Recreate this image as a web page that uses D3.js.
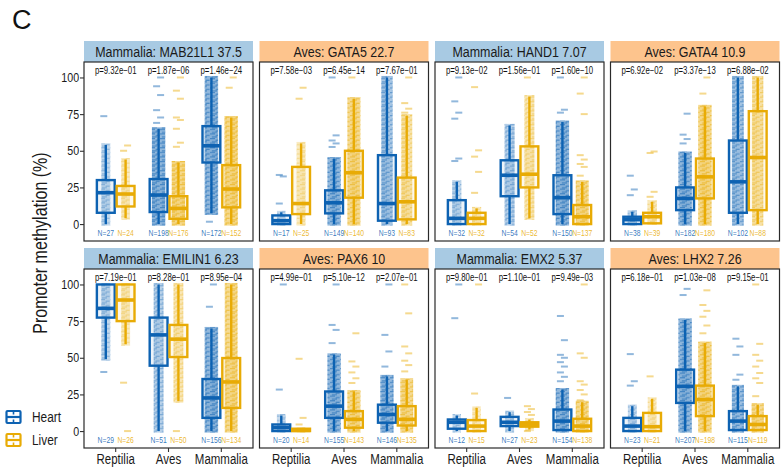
<!DOCTYPE html>
<html>
<head>
<meta charset="utf-8">
<script src="https://cdn.jsdelivr.net/npm/d3@7"></script>
<style>
  body { margin: 0; background: #fff; }
  svg { display: block; }
</style>
</head>
<body>
<svg id="chart" width="783" height="467"></svg>
<script>
// ---- data ----------------------------------------------------------------
const classes = ["Reptilia", "Aves", "Mammalia"];
const tissues = ["Heart", "Liver"];
const tissueColors = ["#0D62B2", "#E8AB05"];
const yTicks = [0, 25, 50, 75, 100];

const panelTitles = [
  "Mammalia: MAB21L1 37.5", "Aves: GATA5 22.7", "Mammalia: HAND1 7.07", "Aves: GATA4 10.9",
  "Mammalia: EMILIN1 6.23", "Aves: PAX6 10", "Mammalia: EMX2 5.37", "Aves: LHX2 7.26"
];
const panelClade = ["Mammalia", "Aves", "Mammalia", "Aves", "Mammalia", "Aves", "Mammalia", "Aves"];
const cladeFill = { Mammalia: "#A8CAE3", Aves: "#FDC48D" };

// Heart vs Liver test, one p per class (Reptilia, Aves, Mammalia)
const pValues = [
  [9.32e-1, 1.87e-6, 1.46e-24],
  [7.58e-3, 6.45e-14, 7.67e-1],
  [9.13e-2, 1.56e-1, 1.60e-10],
  [6.92e-2, 3.37e-13, 6.88e-2],
  [7.19e-1, 8.28e-1, 8.95e-4],
  [4.99e-1, 5.10e-12, 2.07e-1],
  [9.80e-1, 1.10e-1, 9.49e-3],
  [6.18e-1, 1.03e-8, 9.15e-1]
];

// species counts: Reptilia H/L, Aves H/L, Mammalia H/L
const groupCounts = [
  [27, 24, 198, 176, 172, 152],
  [17, 25, 149, 140, 93, 83],
  [32, 32, 54, 52, 150, 137],
  [38, 39, 182, 180, 102, 88],
  [29, 26, 51, 50, 156, 134],
  [20, 14, 155, 143, 146, 135],
  [12, 15, 27, 23, 154, 138],
  [23, 21, 207, 198, 115, 119]
];

// box statistics [lower whisker, Q1, median, Q3, upper whisker], same order as groupCounts
const boxStats = [
  [[0, 7.7, 21.4, 30, 54], [4, 12, 20.5, 26, 44], [0, 8.2, 19.8, 30.7, 65],
   [0, 3.6, 10.7, 19, 42], [7.3, 42, 53.4, 66.8, 100], [0, 11.4, 23.9, 40.2, 72.7]],
  [[0, 0, 2.3, 5.9, 8], [0, 6.8, 14, 39, 55], [0, 7.3, 14.5, 23, 44.7],
   [0, 18, 35, 50, 85.5], [0, 2.3, 14, 47, 100], [0, 3.2, 15.2, 31.7, 74]],
  [[0, 0, 3.9, 16.3, 28.8], [0, 0, 3.9, 7.7, 10.7], [0, 19, 33.3, 43.5, 67.3],
   [3.9, 25, 34, 53, 87], [0, 6.8, 18, 33.3, 69.6], [0, 0, 5, 13, 28.8]],
  [[0, 0, 3, 5, 8.4], [0.5, 0.5, 5, 7.7, 15.2], [0, 9.5, 17.5, 25, 48.5],
   [0, 17.5, 32.2, 44.7, 80.3], [0, 7.7, 28.8, 57, 100], [0, 9.5, 45.4, 77, 100]],
  [[49, 77.4, 83.7, 100, 100], [59.3, 75, 89.4, 100, 100], [0, 44.6, 65.6, 77.4, 100],
   [20.4, 50.5, 62.7, 72.4, 100], [0, 9, 22.6, 35.5, 70], [0, 15.8, 33.5, 49.8, 100]],
  [[0, 0, 2.3, 4.5, 10.6], [0, 0, 0.5, 1.6, 1.6], [0, 9, 17, 27, 52],
   [0, 2.3, 8, 13.6, 27], [0, 5.7, 11.3, 18, 37.3], [0, 3.8, 8, 17, 35]],
  [[0, 1.6, 6, 7.9, 10.6], [0, 0, 3.4, 7.5, 15.8], [0, 3.4, 6, 9.7, 12.9],
   [1, 3, 4.5, 6, 7.9], [0, 0.7, 6.8, 14.7, 28.3], [0, 0, 3.4, 8.4, 19.7]],
  [[0, 0, 3.4, 9, 17], [0, 0, 3, 12.4, 22], [0, 19.2, 30.5, 41.9, 75.8],
   [0, 10.2, 21.5, 31, 60], [0, 0.7, 6.8, 13.6, 30.5], [0, 0.7, 4.5, 10.2, 18]]
];

// species lying outside the whiskers
const outlierValues = [
  [[73.6], [50, 53.6], [69, 72.7, 77.7, 88, 94, 100],
   [52.7, 55.5, 65, 71, 72.7, 85.5, 91, 100], [1.6], [93, 100]],
  [[14, 32.5, 33.5], [85.5, 93], [52.6, 55, 57, 60.5, 100],
   [100], [], [76, 78.7, 82.5, 100]],
  [[43, 44.7, 71.9, 76, 83.7, 100], [21.3, 35.6, 46, 50.3, 93.4], [],
   [100], [76, 78, 100], [33, 39, 41, 44, 47, 75, 89, 100]],
  [[19.7, 23.6, 33], [18.6, 22, 48.5, 49.5], [55, 58, 61, 75.3],
   [89, 100], [], []],
  [[40.3], [33, 0], [], [0], [84.8, 100], []],
  [[28.3, 100], [4.5, 9, 49.3], [60, 69, 72.4, 100],
   [32.8, 36, 40, 44, 47.5, 66.7], [44, 54.3, 65.6, 100], [40.7, 45, 48, 53, 57.7, 80.3, 100]],
  [[77, 100], [25.6, 100], [22.6], [0, 11, 13, 15, 17],
   [34, 37, 40, 44, 47, 50, 52, 62, 78.5], [21, 25, 28, 31.7, 34, 50, 53, 100]],
  [[31, 34, 52.5], [37.3], [92.8, 97], [66.7, 72, 78, 82, 86, 96],
   [35, 38.5, 52, 57.7, 63], [23.8, 32.8, 36, 39.6, 44, 48, 52, 59.5, 100]]
];

// ---- layout ----------------------------------------------------------------
const svg = d3.select("#chart");
const panelLeft = [84, 259.5, 435, 610.5];
const panelW = 169;
const stripTop = [41, 248];
const stripH = 21;
const plotH = 179;
const yDomain = [-11.55, 110.55];
const pLabelAt = 105, nLabelAt = -6;

// pick a narrow sans if present, otherwise squeeze the regular one
function measure(fam) {
  const t = svg.append("text").attr("font-family", fam).attr("font-size", 100).text("Mammalia");
  const w = t.node().getComputedTextLength();
  t.remove();
  return w;
}
const wideW = measure("'Liberation Sans'");
const narrowW = measure("'Liberation Sans Narrow', 'Liberation Sans'");
const hasNarrow = narrowW < wideW * 0.9;
const FONT = hasNarrow ? "'Liberation Sans Narrow', 'Liberation Sans', Arial, sans-serif"
                       : "'Liberation Sans', Arial, sans-serif";
const SX = hasNarrow ? 1 : 0.82;

function label(g, x, y, str, size, opts = {}) {
  const rot = opts.rotate ? ` rotate(${opts.rotate})` : "";
  const sx = SX * (opts.squeeze || 1);
  return g.append("text")
    .attr("transform", `translate(${x},${y})${rot} scale(${sx},1)`)
    .attr("font-family", FONT)
    .attr("font-size", size)
    .attr("text-anchor", opts.anchor || "middle")
    .attr("fill", opts.fill || "#1a1a1a")
    .attr("fill-opacity", opts.opacity == null ? 1 : opts.opacity)
    .text(str);
}

function fmtP(p) {
  const [m, e] = p.toExponential(2).split("e");
  const ex = +e;
  return "p=" + m + "e" + (ex < 0 ? "\u2212" : "+") + String(Math.abs(ex)).padStart(2, "0");
}

// speckle textures: the species labels packed along each group
const defs = svg.append("defs");
tissueColors.forEach((col, i) => {
  const pat = defs.append("pattern").attr("id", "speckle" + i)
    .attr("patternUnits", "userSpaceOnUse").attr("width", 10).attr("height", 4.6);
  [[0, 0, 5], [5.6, 1.5, 4], [1.8, 3.0, 5.2]].forEach(([px, py, pw]) => {
    pat.append("rect").attr("x", px).attr("y", py).attr("width", pw).attr("height", 1.2).attr("fill", col);
  });
});

// panel letter
svg.append("text").attr("x", 12).attr("y", 29)
  .attr("font-family", "'Liberation Sans', Arial, sans-serif")
  .attr("font-size", 27).attr("fill", "#111").text("C");

// y-axis title
label(svg, 47, 243, "Promoter methylation (%)", 19.5, { rotate: -90 });

panelTitles.forEach((title, pi) => {
  const row = Math.floor(pi / 4), col = pi % 4;
  const left = panelLeft[col];
  const top = stripTop[row] + stripH;
  const g = svg.append("g");

  const y = d3.scaleLinear().domain(yDomain).range([top + plotH, top]);
  const x = d3.scaleBand().domain(classes).range([left, left + panelW])
    .paddingInner(0).paddingOuter(0.1);
  const xs = d3.scaleBand().domain(tissues).range([0, x.bandwidth()])
    .paddingInner(0).paddingOuter(1 / 3);
  const boxW = xs.step() * 0.9;

  // strip
  g.append("rect").attr("x", left).attr("y", stripTop[row])
    .attr("width", panelW).attr("height", stripH)
    .attr("fill", cladeFill[panelClade[pi]]);
  label(g, left + panelW / 2, stripTop[row] + 15.5, title, 15.2);

  // boxes
  classes.forEach((cls, ci) => {
    tissues.forEach((tis, ti) => {
      const k = ci * 2 + ti;
      const [lo, q1, med, q3, hi] = boxStats[pi][k];
      const n = groupCounts[pi][k];
      const col = tissueColors[ti];
      const cx = x(cls) + xs(tis) + xs.bandwidth() / 2;
      const bg = g.append("g");
      const dens = Math.min(1, n / 150);

      // species cloud spread along the whisker range
      const cloudW = boxW * (0.45 + 0.3 * dens);
      const cy0 = y(hi) - 1.5, cyH = Math.max(3, y(lo) - y(hi) + 3);
      bg.append("rect")
        .attr("x", cx - cloudW / 2).attr("width", cloudW)
        .attr("y", cy0).attr("height", cyH)
        .attr("fill", col).attr("fill-opacity", 0.2 + 0.25 * dens);
      bg.append("rect")
        .attr("x", cx - cloudW / 2).attr("width", cloudW)
        .attr("y", cy0).attr("height", cyH)
        .attr("fill", `url(#speckle${ti})`).attr("opacity", 0.25 + 0.3 * dens);

      // whiskers
      bg.append("line").attr("x1", cx).attr("x2", cx)
        .attr("y1", y(hi)).attr("y2", y(q3))
        .attr("stroke", col).attr("stroke-width", 2.4);
      bg.append("line").attr("x1", cx).attr("x2", cx)
        .attr("y1", y(q1)).attr("y2", y(lo))
        .attr("stroke", col).attr("stroke-width", 2.4);

      // box + median
      bg.append("rect")
        .attr("x", cx - boxW / 2).attr("width", boxW)
        .attr("y", y(q3)).attr("height", Math.max(0.5, y(q1) - y(q3)))
        .attr("fill", col).attr("fill-opacity", 0.08)
        .attr("stroke", col).attr("stroke-width", 2.4);
      bg.append("line")
        .attr("x1", cx - boxW / 2).attr("x2", cx + boxW / 2)
        .attr("y1", y(med)).attr("y2", y(med))
        .attr("stroke", col).attr("stroke-width", 3.6);

      // isolated species
      bg.selectAll("rect.out").data(outlierValues[pi][k]).join("rect")
        .attr("class", "out")
        .attr("x", (d, i) => cx - 3.5 + (i % 2 ? 2 : -2))
        .attr("y", d => y(d) - 1)
        .attr("width", 7).attr("height", 2)
        .attr("fill", col).attr("fill-opacity", 0.45);

      // N label
      label(g, cx, y(nLabelAt) + 3.5, "N=" + n, 9.4, { fill: col, opacity: 0.85, squeeze: 0.88 });
    });

    // p label
    label(g, x(cls) + x.bandwidth() / 2, y(pLabelAt) + 3.5, fmtP(pValues[pi][ci]), 10, { fill: "#111", squeeze: 0.95 });
  });

  // panel border
  g.append("rect").attr("x", left).attr("y", top)
    .attr("width", panelW).attr("height", plotH)
    .attr("fill", "none").attr("stroke", "#2a2a2a").attr("stroke-width", 1.2);

  // y axis on the first column
  if (col === 0) {
    const ax = g.append("g").attr("transform", `translate(${left},0)`)
      .call(d3.axisLeft(y).tickValues(yTicks).tickSize(4).tickPadding(2));
    ax.select(".domain").remove();
    ax.selectAll(".tick line").attr("stroke", "#333").attr("stroke-width", 1.1);
    ax.selectAll(".tick text")
      .attr("font-family", FONT).attr("font-size", 13).attr("fill", "#1a1a1a")
      .attr("transform", `scale(${SX},1)`);
  }

  // x axis on the bottom row
  if (row === 1) {
    const ax = g.append("g").attr("transform", `translate(0,${top + plotH})`)
      .call(d3.axisBottom(x).tickSize(4).tickPadding(2));
    ax.select(".domain").remove();
    ax.selectAll(".tick line").attr("stroke", "#333").attr("stroke-width", 1.1);
    ax.selectAll(".tick text").remove();
    classes.forEach(cls => {
      label(g, x(cls) + x.bandwidth() / 2, top + plotH + 16, cls, 14);
    });
  }
});

// legend
const legend = svg.append("g");
tissues.forEach((tis, i) => {
  const cy = 417 + i * 23;
  const col = tissueColors[i];
  legend.append("rect").attr("x", 6.5).attr("y", cy - 6).attr("width", 14).attr("height", 12)
    .attr("rx", 1).attr("fill", "none").attr("stroke", col).attr("stroke-width", 2.2);
  legend.append("line").attr("x1", 6.5).attr("x2", 20.5).attr("y1", cy).attr("y2", cy)
    .attr("stroke", col).attr("stroke-width", 2.2);
  legend.append("line").attr("x1", 13.5).attr("x2", 13.5).attr("y1", cy - 6).attr("y2", cy - 2.5)
    .attr("stroke", col).attr("stroke-width", 1.6);
  legend.append("line").attr("x1", 13.5).attr("x2", 13.5).attr("y1", cy + 2.5).attr("y2", cy + 6)
    .attr("stroke", col).attr("stroke-width", 1.6);
  label(legend, 32, cy + 5, tis, 14.5, { anchor: "start" });
});
</script>
</body>
</html>
